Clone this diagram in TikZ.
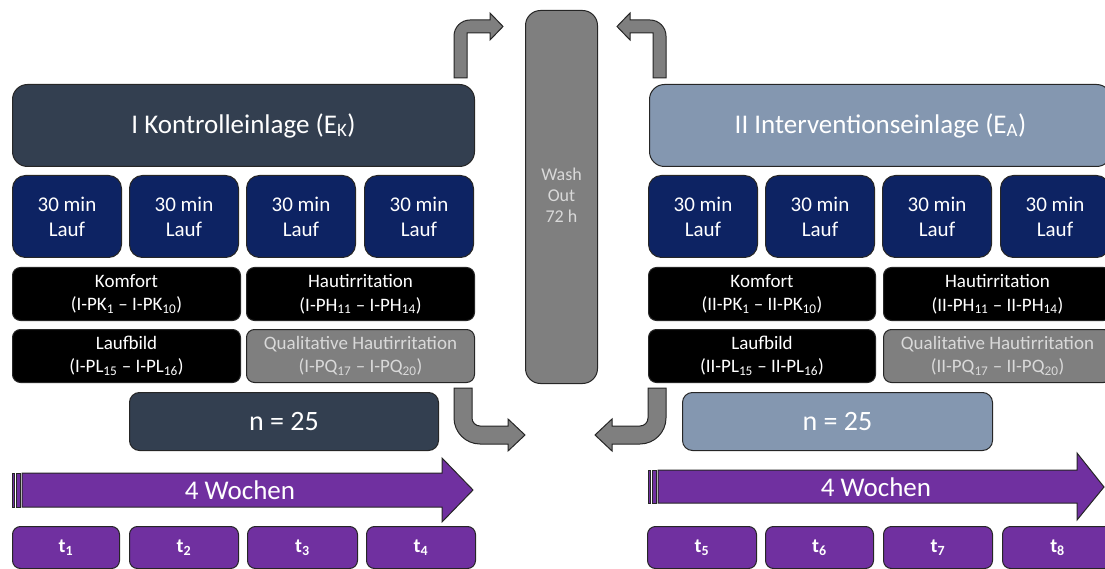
\documentclass[tikz,border=0pt]{standalone}
\usepackage{fontspec}
\setmainfont{Carlito}
\usetikzlibrary{positioning}
\definecolor{slatedark}{HTML}{333F50}
\definecolor{slatelight}{HTML}{8497B0}
\definecolor{navyrun}{HTML}{0D2363}
\definecolor{weekpurple}{HTML}{7030A0}
\definecolor{washgray}{HTML}{7F7F7F}
\definecolor{lighttext}{HTML}{D9D9D9}
\definecolor{edgegray}{HTML}{262626}
\begin{document}
\begin{tikzpicture}[
x=1pt, y=-1pt,
box/.style={rectangle, draw=edgegray, line width=1pt, anchor=north west, inner sep=0pt, align=center, text=white},
title/.style={box, fill=slatedark, rounded corners=15pt, minimum width=462pt, minimum height=82pt, font=\fontsize{27}{32}\selectfont},
run/.style={box, fill=navyrun, rounded corners=13pt, minimum width=109pt, minimum height=82pt, font=\fontsize{21}{25}\selectfont},
measure/.style={box, fill=black, rounded corners=8pt, minimum width=228pt, minimum height=53pt, font=\fontsize{19}{23.5}\selectfont},
quali/.style={measure, fill=washgray, text=lighttext},
sample/.style={box, fill=slatedark, rounded corners=10pt, minimum height=58pt, font=\fontsize{28}{32}\selectfont},
wash/.style={box, fill=washgray, rounded corners=15pt, minimum width=72pt, minimum height=373pt},
timept/.style={box, fill=weekpurple, rounded corners=8pt, minimum height=42pt, font=\fontsize{20}{24}\selectfont\bfseries},
week/.style={fill=weekpurple, draw=edgegray, line width=1pt},
bent/.style={fill=washgray, draw=edgegray, line width=1pt},
]
\useasboundingbox (0,0) rectangle (1105,569);
\clip (0,0) rectangle (1105,569);

% left block
\node[title] (ctrl) at (12,84) {I Kontrolleinlage (E\textsubscript{K})};
\node[run] (runIa) at (12,175) {30 min\\Lauf};
\node[run] (runIb) at (129,175) {30 min\\Lauf};
\node[run] (runIc) at (246,175) {30 min\\Lauf};
\node[run] (runId) at (364,175) {30 min\\Lauf};
\node[measure] (komfI) at (12,267) {Komfort\\(I-PK\textsubscript{1} – I-PK\textsubscript{10})};
\node[measure] (hautI) at (246,267) {Hautirritation\\(I-PH\textsubscript{11} – I-PH\textsubscript{14})};
\node[measure] (laufI) at (12,329) {Laufbild\\(I-PL\textsubscript{15} – I-PL\textsubscript{16})};
\node[quali] (qualI) at (246,329) {Qualitative Hautirritation\\(I-PQ\textsubscript{17} – I-PQ\textsubscript{20})};
\node[sample, minimum width=309pt] (nI) at (129,392) {n = 25};

% right block
\node[title, fill=slatelight] (intv) at (649,84) {II Interventionseinlage (E\textsubscript{A})};
\node[run] (runIIa) at (648,175) {30 min\\Lauf};
\node[run] (runIIb) at (765,175) {30 min\\Lauf};
\node[run] (runIIc) at (882,175) {30 min\\Lauf};
\node[run] (runIId) at (1000,175) {30 min\\Lauf};
\node[measure, minimum width=227pt] (komfII) at (648,267) {Komfort\\(II-PK\textsubscript{1} – II-PK\textsubscript{10})};
\node[measure] (hautII) at (883,267) {Hautirritation\\(II-PH\textsubscript{11} – II-PH\textsubscript{14})};
\node[measure, minimum width=227pt] (laufII) at (648,329) {Laufbild\\(II-PL\textsubscript{15} – II-PL\textsubscript{16})};
\node[quali] (qualII) at (883,329) {Qualitative Hautirritation\\(II-PQ\textsubscript{17} – II-PQ\textsubscript{20})};
\node[sample, fill=slatelight, minimum width=310pt] (nII) at (682,392) {n = 25};

% wash out
\node[wash] (wash) at (525,10) {};
\node[below=158pt of wash.north, inner sep=0pt, align=center, text=lighttext, font=\fontsize{18}{21}\selectfont] (washlbl) {Wash\\Out\\72 h};

% bent arrows
\draw[bent] (454,78) -- (454,36) .. controls (454,27.2) and (461.2,20) .. (470,20) -- (490,20) -- (490,13)
  -- (503,26.5) -- (490,40) -- (490,33) -- (467,33) -- (467,78) -- cycle;
\begin{scope}[xshift=1120pt, xscale=-1]
\draw[bent] (454,78) -- (454,36) .. controls (454,27.2) and (461.2,20) .. (470,20) -- (490,20) -- (490,13)
  -- (503,26.5) -- (490,40) -- (490,33) -- (467,33) -- (467,78) -- cycle;
\end{scope}
\draw[bent] (454,388) -- (454,418) .. controls (454,432.3) and (465.7,444) .. (480,444) -- (508,444) -- (508,451)
  -- (525,435) -- (508,419) -- (508,426) -- (480,426) .. controls (475.6,426) and (472,422.4) .. (472,418) -- (472,388) -- cycle;
\begin{scope}[xshift=1120pt, xscale=-1]
\draw[bent] (454,388) -- (454,418) .. controls (454,432.3) and (465.7,444) .. (480,444) -- (508,444) -- (508,451)
  -- (525,435) -- (508,419) -- (508,426) -- (480,426) .. controls (475.6,426) and (472,422.4) .. (472,418) -- (472,388) -- cycle;
\end{scope}

% week arrows
\draw[week] (12,473) rectangle (14,507);
\draw[week] (16,473) rectangle (20,507);
\draw[week] (22,473) -- (442,473) -- (442,458) -- (473,490) -- (442,522) -- (442,507) -- (22,507) -- cycle;
\node[text=white, font=\fontsize{27}{32}\selectfont] (weekI) at (240,490) {4 Wochen};
\draw[week] (648,470) rectangle (650,503);
\draw[week] (652,470) rectangle (656,503);
\draw[week] (658,470) -- (1077,470) -- (1077,453) -- (1104,487) -- (1077,520) -- (1077,503) -- (658,503) -- cycle;
\node[text=white, font=\fontsize{27}{32}\selectfont] (weekII) at (876,487) {4 Wochen};

% time points
\node[timept, minimum width=107pt] (t1) at (12,526) {t\textsubscript{1}};
\node[timept, minimum width=109pt] (t2) at (129,526) {t\textsubscript{2}};
\node[timept, minimum width=110pt] (t3) at (247,526) {t\textsubscript{3}};
\node[timept, minimum width=109pt] (t4) at (366,526) {t\textsubscript{4}};
\node[timept, minimum width=109pt] (t5) at (647,526) {t\textsubscript{5}};
\node[timept, minimum width=108pt] (t6) at (765,526) {t\textsubscript{6}};
\node[timept, minimum width=109pt] (t7) at (883,526) {t\textsubscript{7}};
\node[timept, minimum width=110pt] (t8) at (1002,526) {t\textsubscript{8}};
\end{tikzpicture}
\end{document}
